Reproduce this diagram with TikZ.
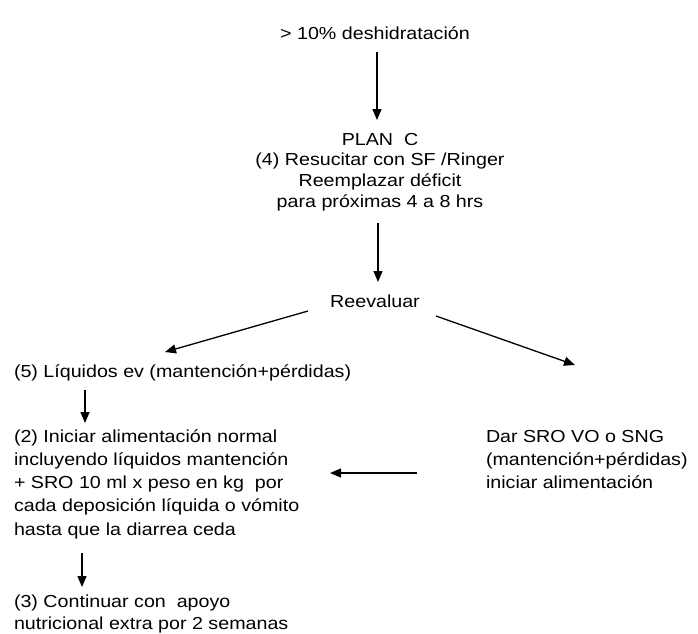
\documentclass[tikz,border=0pt]{standalone}
\usepackage{fontspec}
\setmainfont{Liberation Sans}[FakeStretch=1.13]
\usetikzlibrary{arrows.meta,calc}
\begin{document}
\begin{tikzpicture}[x=1pt,y=-1pt,
  txt/.style={inner sep=0pt,outer sep=0pt,text=black},
  arr/.style={draw=black,line width=1.3pt,-{Triangle[length=11pt,width=9pt]}}]
\useasboundingbox (0,0) rectangle (698,633);
\node[txt,anchor=base,font=\fontsize{17.4}{20.7}\selectfont] (title) at (375,39) {> 10\% deshidratación};
\node[txt,anchor=base,align=center,font=\fontsize{17.4}{20.7}\selectfont] (planc) at (380,207.1)
  {PLAN~~C\\(4) Resucitar con SF /Ringer\\Reemplazar déficit\\para próximas 4 a 8 hrs};
\node[txt,anchor=base,font=\fontsize{17.4}{20.7}\selectfont] (reeval) at (375,307) {Reevaluar};
\node[txt,anchor=base west,font=\fontsize{17.4}{20.7}\selectfont] (liq) at (14,377) {(5) Líquidos ev (mantención+pérdidas)};
\node[txt,anchor=base west,align=left,font=\fontsize{17.4}{23.3}\selectfont] (ali) at (14,535.2)
  {(2) Iniciar alimentación normal\\incluyendo líquidos mantención\\+ SRO 10 ml x peso en kg~~por\\cada deposición líquida o vómito\\hasta que la diarrea ceda};
\node[txt,anchor=base west,align=left,font=\fontsize{17.4}{23.3}\selectfont] (dar) at (486,488.6)
  {Dar SRO VO o SNG\\(mantención+pérdidas)\\iniciar alimentación};
\node[txt,anchor=base west,align=left,font=\fontsize{17.4}{22}\selectfont] (cont) at (14,629)
  {(3) Continuar con~~apoyo\\nutricional extra por 2 semanas};
\draw[arr] ($(title.base)+(2,13)$) -- ($(planc.base)+(-3,-87.1)$);
\draw[arr] ($(planc.base)+(-2,15.9)$) -- ($(reeval.base)+(3,-25)$);
\draw[arr] ($(reeval.base)+(-67,4)$) -- ($(liq.base west)+(151,-25)$);
\draw[arr] ($(reeval.base)+(61,9)$) -- ($(dar.base west)+(89,-123.6)$);
\draw[arr] ($(liq.base west)+(71,13)$) -- ($(ali.base west)+(71,-112.2)$);
\draw[arr] ($(dar.base west)+(-69,-15.6)$) -- ($(ali.base west)+(316,-62.2)$);
\draw[arr] ($(ali.base west)+(68,17.8)$) -- ($(cont.base west)+(68,-42)$);
\end{tikzpicture}
\end{document}
